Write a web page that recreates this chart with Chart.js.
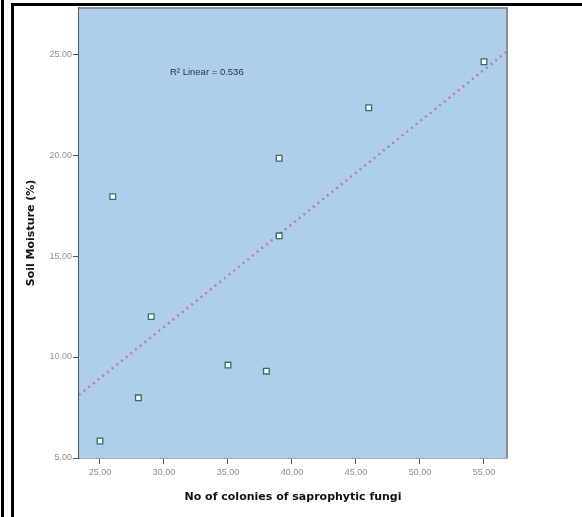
<!DOCTYPE html>
<html>
<head>
<meta charset="utf-8">
<script src="https://cdn.jsdelivr.net/npm/chart.js@4.4.1/dist/chart.umd.min.js"></script>
<style>
  html, body { margin: 0; padding: 0; background: #ffffff; }
  #wrap { position: relative; width: 582px; height: 517px; overflow: hidden; }
  canvas { position: absolute; left: 0; top: 0; }
  .ln { position: absolute; background: #000; }
</style>
</head>
<body>
<div id="wrap">
  <canvas id="c" width="582" height="517"></canvas>
  <div class="ln" style="left:1px;top:0;width:3px;height:517px;"></div>
  <div class="ln" style="left:11px;top:3px;width:3px;height:514px;"></div>
  <div class="ln" style="left:11px;top:3px;width:571px;height:3px;"></div>
</div>
<script>
// ---- data ----
const colonies = [25, 28, 29, 35, 38, 26, 39, 39, 46, 55];
const soilMoisture = [5.84, 7.98, 12.0, 9.6, 9.3, 17.94, 19.84, 16.0, 22.34, 24.62];
const xTicks = [25, 30, 35, 40, 45, 50, 55];
const yTicks = [5, 10, 15, 20, 25];
const xTitle = 'No of colonies of saprophytic fungi';
const yTitle = 'Soil Moisture (%)';
const fitLabel = 'R\u00B2 Linear = 0.536';

const xMin = 23.36, xMax = 56.8, yMin = 5, yMax = 27.28;

// least-squares fit line from the data
const n = colonies.length;
const mx = colonies.reduce((a, b) => a + b, 0) / n;
const my = soilMoisture.reduce((a, b) => a + b, 0) / n;
let sxy = 0, sxx = 0;
for (let i = 0; i < n; i++) { sxy += (colonies[i] - mx) * (soilMoisture[i] - my); sxx += (colonies[i] - mx) ** 2; }
const slope = sxy / sxx, intercept = my - slope * mx;
const fitLine = [xMin, xMax].map(x => ({ x: x, y: intercept + slope * x }));

const points = colonies.map((x, i) => ({ x: x, y: soilMoisture[i] }));

const bgPlugin = {
  id: 'bg',
  beforeDatasetsDraw(chart) {
    const { ctx, chartArea: a } = chart;
    ctx.save();
    ctx.fillStyle = '#AFCEEC';
    ctx.fillRect(a.left, a.top, a.right - a.left, a.bottom - a.top);
    ctx.restore();
  },
  afterDraw(chart) {
    const { ctx, chartArea: a } = chart;
    ctx.save();
    ctx.strokeStyle = '#8a8f96';
    ctx.lineWidth = 2;
    ctx.beginPath();
    ctx.moveTo(a.left, a.top);
    ctx.lineTo(a.right, a.top);
    ctx.lineTo(a.right, a.bottom);
    ctx.stroke();
    ctx.fillStyle = '#1f2d4a';
    ctx.font = '9.5px "Liberation Sans", Arial, sans-serif';
    ctx.textBaseline = 'middle';
    ctx.fillText(fitLabel, a.left + 91, a.top + 64);
    ctx.restore();
  }
};

new Chart(document.getElementById('c'), {
  type: 'scatter',
  data: {
    datasets: [
      {
        type: 'line',
        data: fitLine,
        borderColor: '#b27fae',
        borderWidth: 2.5,
        borderDash: [2, 4],
        pointRadius: 0,
        fill: false,
        order: 2
      },
      {
        data: points,
        pointStyle: 'rect',
        pointRadius: 4,
        backgroundColor: '#ffffff',
        borderColor: '#2f6f6a',
        borderWidth: 1.3,
        order: 1
      }
    ]
  },
  options: {
    responsive: false,
    animation: false,
    devicePixelRatio: 1,
    layout: { padding: { left: 15, top: 8, right: 75, bottom: 0 } },
    plugins: { legend: { display: false }, tooltip: { enabled: false } },
    scales: {
      x: {
        type: 'linear', min: xMin, max: xMax,
        afterBuildTicks: s => { s.ticks = xTicks.map(v => ({ value: v })); },
        afterFit: s => { s.height = 59; },
        border: { display: true, color: '#4a5568', width: 1.5 },
        grid: { drawOnChartArea: false, drawTicks: true, tickLength: 6, color: '#4a5568' },
        ticks: {
          color: '#8f8f8f', padding: 3, maxRotation: 0,
          font: { size: 9, family: '"Liberation Sans", Arial, sans-serif' },
          callback: v => Number(v).toFixed(2)
        },
        title: {
          display: true, text: xTitle, color: '#111',
          font: { size: 11, weight: 'bold', family: '"DejaVu Sans", Verdana, sans-serif' },
          padding: { bottom: 13, top: 0 }
        }
      },
      y: {
        type: 'linear', min: yMin, max: yMax,
        afterBuildTicks: s => { s.ticks = yTicks.map(v => ({ value: v })); },
        afterFit: s => { s.width = 64; },
        border: { display: true, color: '#4a5568', width: 1.5 },
        grid: { drawOnChartArea: false, drawTicks: true, tickLength: 6, color: '#4a5568' },
        ticks: {
          color: '#8f8f8f', padding: 1,
          font: { size: 9, family: '"Liberation Sans", Arial, sans-serif' },
          callback: v => Number(v).toFixed(2)
        },
        title: {
          display: true, text: yTitle, color: '#111',
          font: { size: 11, weight: 'bold', family: '"DejaVu Sans", Verdana, sans-serif' },
          padding: { top: 10, bottom: 0 }
        }
      }
    }
  },
  plugins: [bgPlugin]
});
</script>
</body>
</html>
